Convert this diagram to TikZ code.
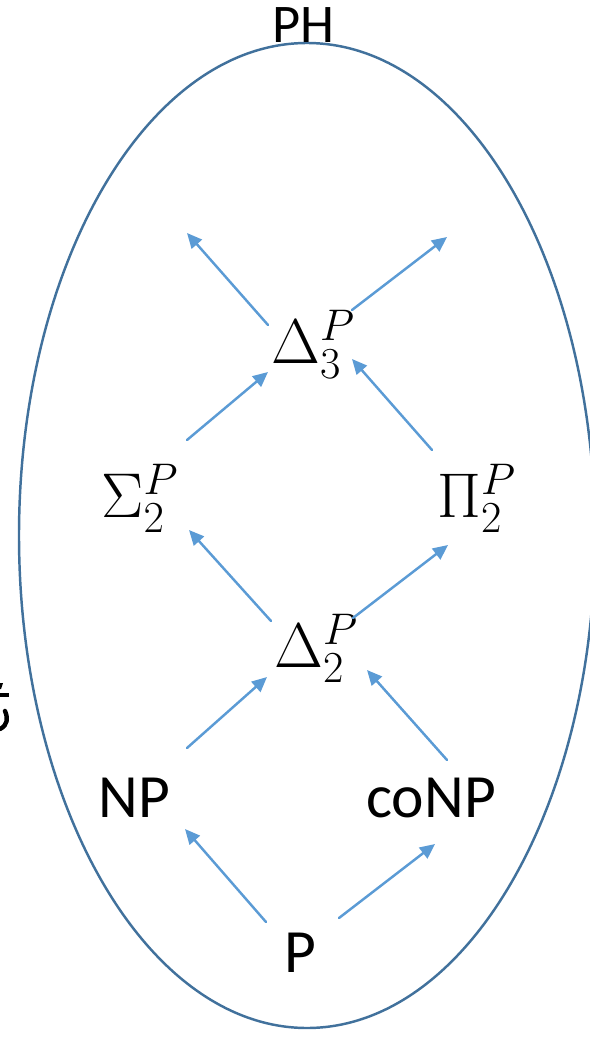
\RequirePackage{fix-cm}
\documentclass[tikz,border=0pt]{standalone}
\usepackage[no-math]{fontspec}
\setmainfont{Carlito}
\usepackage{xcolor}
\usepackage{tikz}
\usetikzlibrary{calc,arrows.meta}

\definecolor{ringblue}{RGB}{65,113,156}
\definecolor{arrowblue}{RGB}{91,155,213}

\begin{document}
\begin{tikzpicture}[
  x=0.02cm,
  y=-0.02cm,
  line cap=round,
  line join=round,
  >={Triangle[length=0.3cm,width=0.27cm]},
  hierarchy/.style={ringblue,line width=1.4pt},
  inclusion/.style={arrowblue,line width=1.4pt,->},
  classname/.style={inner sep=0pt,anchor=base west,
    font=\fontsize{35}{42}\selectfont},
  classmath/.style={inner sep=0pt,anchor=base west,
    font=\fontsize{36}{43}\selectfont}
]
\path[use as bounding box] (0,0) rectangle (589,1037);

% the hierarchy
\draw[hierarchy] (307,535.5) ellipse [x radius=288, y radius=492.5];
\node[classname,font=\fontsize{31}{37}\selectfont] (ph) at (272,43) {PH};

% cut-off glyph at the left edge
\fill (-3,683) -- (3,683) -- (1,689) -- (-3,689) -- cycle;
\fill (-3,693) rectangle (9,697);
\draw[line width=2.5pt] (5,711) .. controls (8,718) and (8,725) .. (0,729);

\node[classname] (p)    at (284,972) {P};
\node[classname] (np)   at (98,817)  {NP};
\node[classname] (conp) at (366,817) {coNP};
\node[classmath] (dtwo)   at (274,667) {$\Delta_2^P$};
\node[classmath] (sigtwo) at (101,517) {$\Sigma_2^P$};
\node[classmath] (pitwo)  at (437,517) {$\Pi_2^P$};
\node[classmath] (dthree) at (271,363) {$\Delta_3^P$};

\coordinate (upleft)  at (187,233);
\coordinate (upright) at (447,237);

\draw[inclusion] ($(p.base west)+(-18,-50)$) -- ($(np.base west)+(87,12)$);
\draw[inclusion] ($(p.base west)+(55,-54)$) -- ($(conp.base west)+(69,27)$);
\draw[inclusion] ($(np.base west)+(89,-69)$) -- ($(dtwo.base west)+(-7,10)$);
\draw[inclusion] ($(conp.base west)+(81,-57)$) -- ($(dtwo.base west)+(93,3)$);
\draw[inclusion] ($(dtwo.base west)+(-3,-46)$) -- ($(sigtwo.base west)+(88,13)$);
\draw[inclusion] ($(dtwo.base west)+(79,-49)$) -- ($(pitwo.base west)+(11,28)$);
\draw[inclusion] ($(sigtwo.base west)+(86,-77)$) -- ($(dthree.base west)+(-3,9)$);
\draw[inclusion] ($(pitwo.base west)+(-5,-67)$) -- ($(dthree.base west)+(81,-4)$);
\draw[inclusion] ($(dthree.base west)+(-3,-38)$) -- (upleft);
\draw[inclusion] ($(dthree.base west)+(81,-53)$) -- (upright);
\end{tikzpicture}
\end{document}
